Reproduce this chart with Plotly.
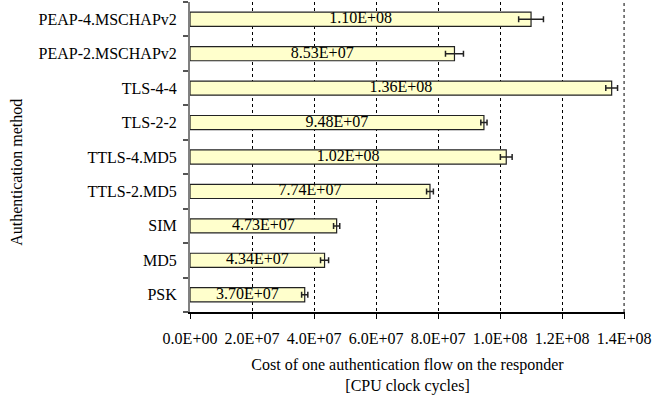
import plotly.graph_objects as go

# Authentication methods, listed bottom to top
methods = ["PSK", "MD5", "SIM", "TTLS-2.MD5", "TTLS-4.MD5",
           "TLS-2-2", "TLS-4-4", "PEAP-2.MSCHAPv2", "PEAP-4.MSCHAPv2"]
# Mean cost of one authentication flow on the responder (CPU clock cycles)
cycles = [3.70e7, 4.34e7, 4.73e7, 7.74e7, 1.02e8,
          9.48e7, 1.36e8, 8.53e7, 1.10e8]
# Error (± cycles)
cycles_err = [1.0e6, 1.3e6, 1.0e6, 1.1e6, 1.9e6,
              1.0e6, 1.9e6, 2.9e6, 4.0e6]
# X-axis ticks
x_ticks = [0, 2e7, 4e7, 6e7, 8e7, 1.0e8, 1.2e8, 1.4e8]
x_tick_labels = ["%.1E" % v for v in x_ticks]

FONT = "Liberation Serif, Times New Roman, serif"

fig = go.Figure()
fig.add_trace(go.Bar(
    y=methods,
    x=cycles,
    orientation="h",
    marker=dict(color="#FFFFCC", line=dict(color="#222222", width=1.2)),
    error_x=dict(type="data", array=cycles_err, visible=True,
                 color="#222222", thickness=1.5, width=3),
    width=0.41,
    hoverinfo="x+y",
))

# Value labels centred in each bar
fig.add_trace(go.Scatter(
    y=methods,
    x=[v / 2 for v in cycles],
    mode="text",
    text=["%.2E" % v for v in cycles],
    textposition="middle center",
    textfont=dict(family=FONT, size=16, color="black"),
    hoverinfo="skip",
    cliponaxis=False,
))

fig.update_layout(
    width=653, height=400,
    margin=dict(l=190, r=26, t=2, b=88),
    paper_bgcolor="white",
    plot_bgcolor="white",
    showlegend=False,
    font=dict(family=FONT, size=16, color="black"),
)

fig.update_xaxes(
    range=[0, 1.403e8],
    tickvals=x_ticks,
    ticktext=x_tick_labels,
    ticklabeloverflow="allow",
    ticks="outside", ticklen=5, tickwidth=1, tickcolor="black",
    showline=True, linecolor="black", linewidth=1.5,
    showgrid=True, gridcolor="black", gridwidth=1, griddash="3px,3px",
    zeroline=False,
    ticklabelstandoff=6,
    tickfont=dict(family=FONT, size=16, color="black"),
    title=dict(text="Cost of one authentication flow on the responder<br>[CPU clock cycles]",
               font=dict(family=FONT, size=16, color="black"), standoff=13),
)

# Gridline at the last tick, which sits on the right edge of the plot
fig.add_shape(
    type="line", xref="x", yref="paper",
    x0=x_ticks[-1], x1=x_ticks[-1], y0=0, y1=1,
    line=dict(color="black", width=1, dash="3px,3px"),
    layer="below",
)

fig.update_yaxes(
    categoryorder="array", categoryarray=methods,
    range=[-0.5, 8.5],
    ticks="outside", ticklen=5, tickwidth=1.5, tickcolor="#555555",
    tickson="boundaries",
    showline=True, linecolor="#808080", linewidth=2,
    showgrid=False, zeroline=False,
    tickfont=dict(family=FONT, size=16, color="black"),
    ticklabelstandoff=8,
)

fig.add_annotation(
    text="Authentication method", textangle=-90,
    xref="paper", yref="paper", x=-190 / 437 + 15 / 437, y=(312 - 172) / 310,
    xanchor="center", yanchor="middle", showarrow=False,
    font=dict(family=FONT, size=16, color="black"),
)

fig.write_html("out.html")
